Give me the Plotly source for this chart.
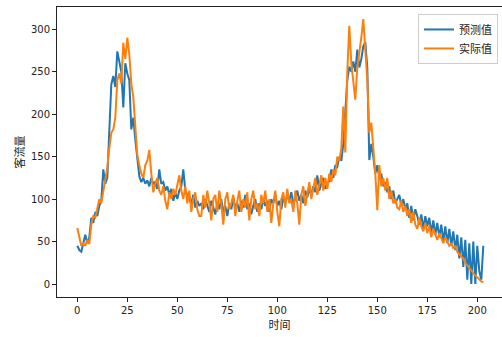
import plotly.graph_objects as go

pred = [45, 40, 38, 50, 58, 48, 55, 78, 72, 85, 80, 92, 98, 135, 118, 125, 180, 235, 245, 232,
        274, 260, 250, 208, 260, 248, 240, 182, 196, 170, 150, 127, 120, 125, 118, 122, 115, 125, 118, 120,
        112, 135, 118, 120, 110, 115, 105, 112, 98, 108, 100, 110, 115, 135, 110, 105, 100, 95, 105, 90,
        98, 92, 95, 88, 100, 92, 85, 98, 90, 82, 95, 88, 100, 85, 92, 80, 95, 88, 102, 90,
        95, 85, 98, 90, 105, 88, 95, 82, 92, 100, 85, 95, 88, 100, 92, 98, 85, 100, 95, 105,
        92, 98, 88, 102, 95, 105, 98, 108, 95, 100, 110, 98, 105, 95, 110, 102, 112, 105, 115, 108,
        128, 110, 118, 125, 112, 118, 122, 135, 125, 140, 138, 150, 145, 165, 200, 240, 256, 250, 262, 250,
        276, 255, 265, 280, 285, 255, 146, 165, 150, 130, 140, 125, 130, 115, 120, 108, 115, 100, 110, 95,
        100, 105, 92, 100, 88, 95, 78, 92, 75, 88, 80, 70, 82, 65, 80, 68, 78, 60, 75, 58,
        72, 55, 70, 50, 68, 48, 65, 45, 62, 40, 58, 30, 55, 20, 52, 5, 48, 0, 50, 0,
        45, 15, 5, 45]

actual = [66, 55, 45, 48, 45, 52, 47, 70, 80, 78, 88, 100, 95, 110, 125, 137, 160, 178, 182, 196,
          240, 248, 236, 284, 265, 290, 270, 236, 220, 180, 152, 140, 130, 125, 140, 145, 158, 130, 108, 118,
          125, 110, 105, 115, 98, 88, 108, 100, 112, 105, 118, 128, 110, 100, 115, 95, 110, 85, 100, 108,
          88, 80, 80, 105, 90, 110, 95, 75, 100, 105, 85, 110, 95, 70, 100, 108, 88, 95, 105, 80,
          98, 110, 85, 100, 90, 108, 75, 100, 110, 88, 95, 80, 105, 95, 110, 85, 100, 72, 95, 110,
          85, 68, 100, 108, 90, 112, 95, 100, 85, 110, 95, 70, 105, 115, 92, 108, 120, 100, 112, 125,
          105, 118, 128, 110, 125, 112, 130, 120, 135, 128, 150, 145, 160, 209, 155, 250, 304, 260, 235, 217,
          255, 270, 290, 312, 270, 240, 178, 190, 160, 130, 87, 140, 115, 125, 110, 125, 100, 110, 95, 100,
          90, 88, 98, 85, 92, 80, 88, 72, 85, 70, 65, 78, 68, 62, 72, 60, 68, 55, 65, 58,
          52, 60, 55, 48, 55, 50, 45, 48, 42, 45, 38, 35, 32, 30, 25, 22, 18, 15, 12, 10,
          8, 5, 3, 2]

x = list(range(len(pred)))
x_ticks = [0, 25, 50, 75, 100, 125, 150, 175, 200]
y_ticks = [0, 50, 100, 150, 200, 250, 300]

fig = go.Figure()
fig.add_trace(go.Scatter(x=x, y=pred, mode="lines", name="预测值",
                         line=dict(color="#1f77b4", width=2)))
fig.add_trace(go.Scatter(x=x, y=actual, mode="lines", name="实际值",
                         line=dict(color="#ff7f0e", width=2)))

axis_font = dict(family="DejaVu Sans, Noto Sans CJK SC", size=10, color="#222")
fig.update_layout(
    width=502, height=337,
    margin=dict(l=57, r=0, t=7, b=40),
    paper_bgcolor="white", plot_bgcolor="white",
    font=axis_font,
    showlegend=True,
    legend=dict(x=0.991, y=0.976, xanchor="right", yanchor="top",
                bordercolor="#cccccc", borderwidth=1, bgcolor="rgba(255,255,255,0.8)",
                font=dict(family="Noto Sans CJK SC", size=11, color="#222"),
                itemwidth=30, tracegroupgap=0),
    xaxis=dict(range=[-10.15, 212.35], tickvals=x_ticks, showgrid=False, zeroline=False,
               showline=True, linecolor="#222", linewidth=1, mirror=True,
               ticks="outside", ticklen=4, tickcolor="#222",
               title=dict(text="时间", font=dict(family="Noto Sans CJK SC", size=11, color="#222"),
                          standoff=4)),
    yaxis=dict(range=[-15.3, 326.2], tickvals=y_ticks, showgrid=False, zeroline=False,
               showline=True, linecolor="#222", linewidth=1, mirror=False,
               ticks="outside", ticklen=4, tickcolor="#222",
               title=dict(text="客流量", font=dict(family="Noto Sans CJK SC", size=11, color="#222"),
                          standoff=4)),
)

fig.write_html("out.html")
